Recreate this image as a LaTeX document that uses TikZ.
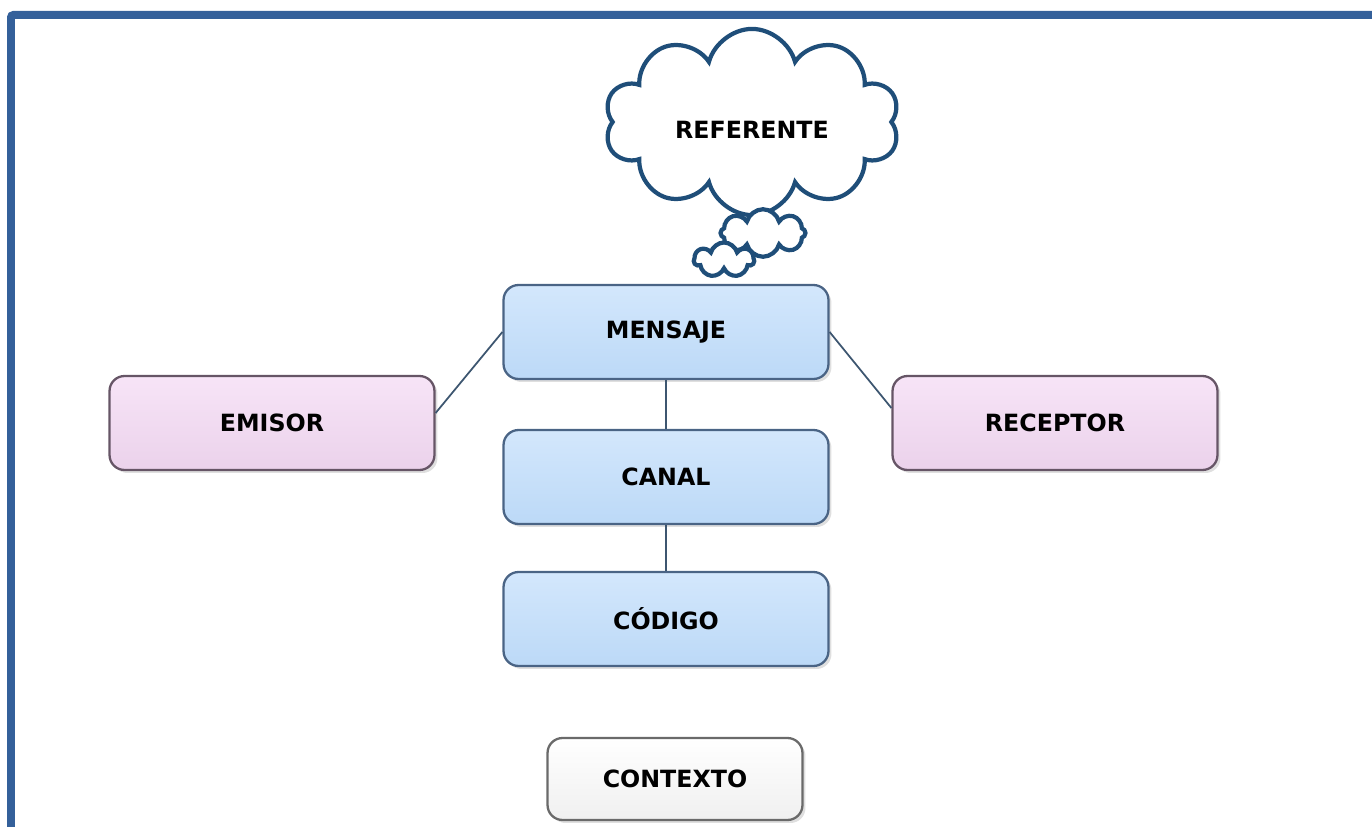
\documentclass[tikz,border=0pt]{standalone}
\usepackage{fontspec}
\setmainfont{DejaVu Sans}
\usetikzlibrary{shapes.symbols,shadows}
\definecolor{framecol}{HTML}{34609A}
\definecolor{cloudcol}{HTML}{1F4E79}
\definecolor{bluefill}{HTML}{D3E7FC}
\definecolor{bluefillb}{HTML}{BCD9F7}
\definecolor{blueline}{HTML}{4A6485}
\definecolor{pinkfill}{HTML}{F7E4F7}
\definecolor{pinkfillb}{HTML}{EBD2EB}
\definecolor{pinkline}{HTML}{665566}
\definecolor{greyline}{HTML}{6A6A6A}
\definecolor{linkcol}{HTML}{3D5670}
\tikzset{
  box/.style={draw, rounded corners=0.3cm, line width=1.3pt, font=\fontsize{13.5}{15}\selectfont\bfseries,
    minimum width=6.5cm, minimum height=1.88cm, drop shadow={shadow xshift=0.06cm, shadow yshift=-0.06cm, opacity=0.25}},
  bluebox/.style={box, draw=blueline, top color=bluefill, bottom color=bluefillb},
  pinkbox/.style={box, draw=pinkline, top color=pinkfill, bottom color=pinkfillb},
  greybox/.style={box, draw=greyline, top color=white, bottom color=gray!12, minimum width=5.1cm, minimum height=1.64cm},
  thought/.style={cloud, draw=cloudcol, line width=2.4pt, fill=white, cloud puffs=#1, aspect=1.7},
  link/.style={draw=linkcol, line width=1pt}
}
\begin{document}
\begin{tikzpicture}[x=0.02cm, y=-0.02cm]  % elementos de la comunicacion
  \useasboundingbox (0,0) rectangle (1372,827);
  \draw[framecol, line width=0.16cm, rounded corners=0.05cm] (11,840) -- (11,15) -- (1390,15);
  % nube del referente
  \node[thought=10, minimum width=5.9cm, minimum height=3.5cm, font=\fontsize{13.5}{15}\selectfont\bfseries,
    text height=0.66cm, text depth=0cm] (referente) at (752,122) {REFERENTE};
  \node[thought=8, minimum width=1.7cm, minimum height=0.95cm] (nubeA) at (763,233) {};
  \node[thought=7, minimum width=1.2cm, minimum height=0.7cm] (nubeB) at (724,260) {};
  % cajas
  \node[bluebox] (mensaje) at (666,332) {MENSAJE};
  \node[bluebox] (canal) at (666,477) {CANAL};
  \node[bluebox] (codigo) at (666,619) {CÓDIGO};
  \node[pinkbox] (emisor) at (272,423) {EMISOR};
  \node[pinkbox] (receptor) at (1055,423) {RECEPTOR};
  \node[greybox] (contexto) at (675,779) {CONTEXTO};
  % enlaces
  \draw[link] (emisor.east) ++(0,-10) -- (mensaje.west);
  \draw[link] (mensaje.east) -- ([yshift=0.3cm]receptor.west);
  \draw[link] (mensaje) -- (canal);
  \draw[link] (canal) -- (codigo);
\end{tikzpicture}
\end{document}
